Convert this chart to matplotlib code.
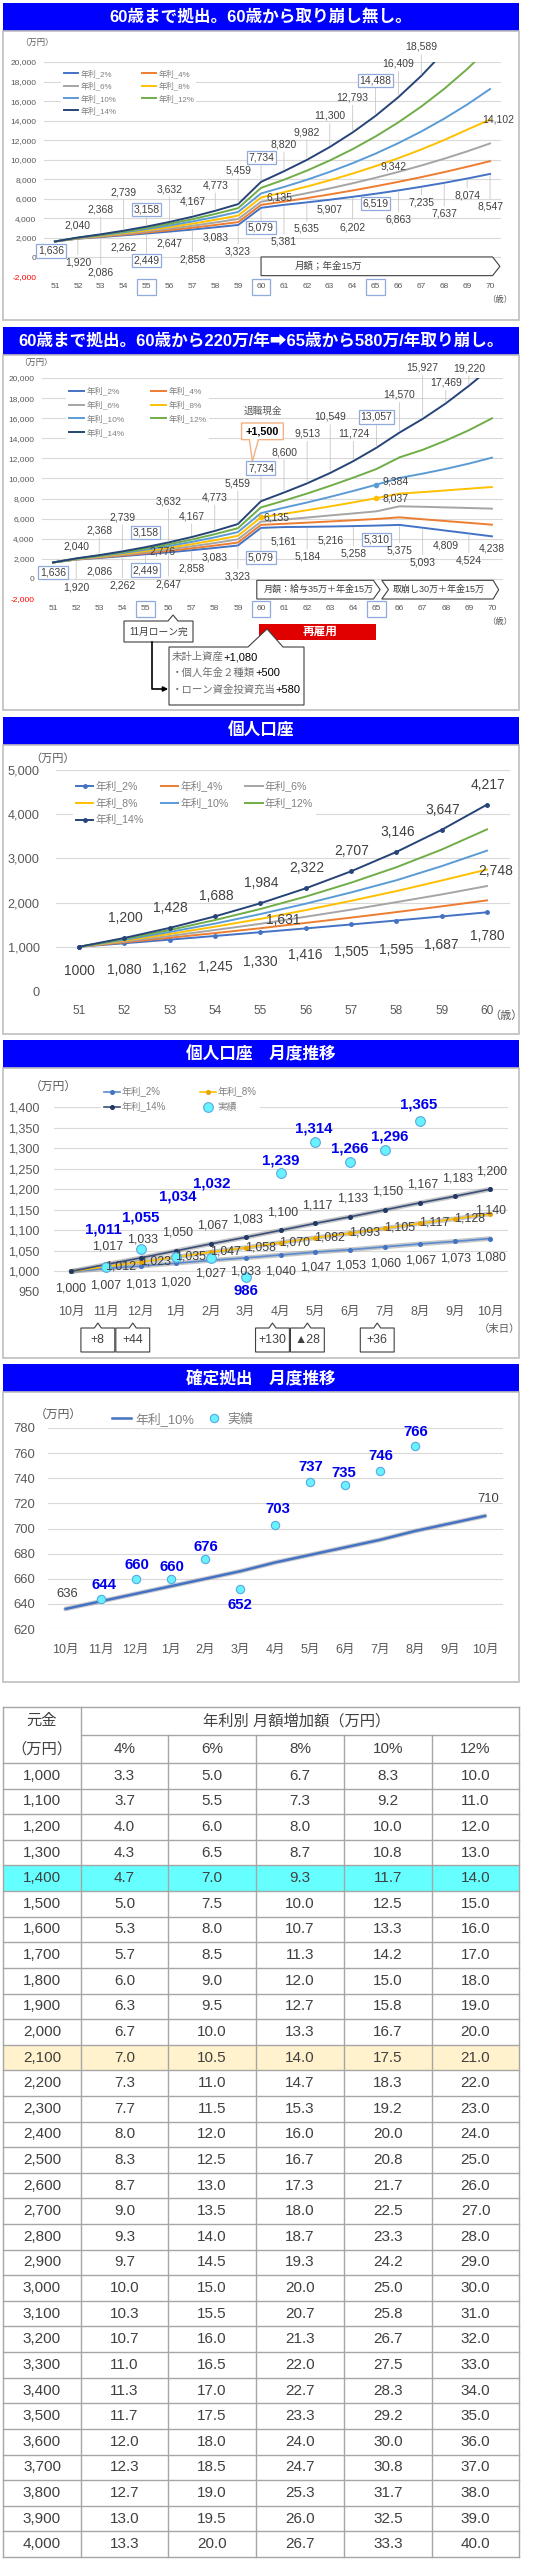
import matplotlib.pyplot as plt
import matplotlib.transforms as mtransforms
from matplotlib.patches import Rectangle, Polygon

plt.rcParams['font.family'] = ['Liberation Sans', 'Noto Sans CJK JP', 'DejaVu Sans']

# ---------------- data ----------------
rate_names = ['年利_2%', '年利_4%', '年利_6%', '年利_8%', '年利_10%', '年利_12%', '年利_14%']
ages = [51, 52, 53, 54, 55, 56, 57, 58, 59, 60, 61, 62, 63, 64, 65, 66, 67, 68, 69, 70]

# chart 1: no withdrawal after 60
c1_2 = [1636, 1920, 2086, 2262, 2449, 2647, 2858, 3083, 3323, 5079, 5381, 5635, 5907, 6202, 6519, 6863, 7235, 7637, 8074, 8547]
c1_4 = [1636, 1940, 2130, 2335, 2555, 2790, 3045, 3320, 3615, 5380, 5716, 6073, 6452, 6855, 7283, 7738, 8221, 8734, 9280, 9854]
c1_6 = [1636, 1960, 2175, 2410, 2665, 2940, 3245, 3575, 3935, 5700, 6123, 6577, 7065, 7590, 8153, 8758, 9408, 10106, 10856, 11665]
c1_8 = [1636, 1980, 2220, 2490, 2776, 3100, 3455, 3850, 4285, 6135, 6673, 7258, 7895, 8587, 9342, 10161, 11052, 12021, 13075, 14102]
c1_10 = [1636, 2000, 2270, 2570, 2900, 3270, 3680, 4140, 4660, 6550, 7215, 7948, 8756, 9645, 10625, 11705, 12894, 14204, 15647, 17233]
c1_12 = [1636, 2020, 2318, 2655, 3025, 3445, 3915, 4450, 5045, 7120, 7953, 8884, 9923, 11084, 12381, 13830, 15448, 17256, 19275, 21530]
c1_14 = [1636, 2040, 2368, 2739, 3158, 3632, 4167, 4773, 5459, 7734, 8820, 9982, 11300, 12793, 14488, 16409, 18589, 21060, 23860, 27030]

# chart 2: withdrawal 220/yr from 60, 580/yr from 65
c2_2 = c1_2[:9] + [5079, 5161, 5184, 5216, 5258, 5310, 5375, 5093, 4809, 4524, 4238]
c2_4 = c1_4[:9] + [5380, 5490, 5600, 5720, 5840, 5965, 6131, 5940, 5760, 5580, 5401]
c2_6 = c1_6[:9] + [5700, 5900, 6110, 6320, 6520, 6728, 7226, 7180, 7120, 7060, 6994]
c2_8 = c1_8[:9] + [6135, 6480, 6840, 7220, 7620, 8037, 8490, 8640, 8810, 8980, 9150]
c2_10 = c1_10[:9] + [6550, 7090, 7610, 8170, 8760, 9384, 10050, 10480, 10950, 11480, 12070]
c2_12 = c1_12[:9] + [7120, 7790, 8500, 9270, 10080, 10942, 12103, 12850, 13770, 14800, 15985]
c2_14 = c1_14[:9] + [7734, 8600, 9513, 10549, 11724, 13057, 14570, 15927, 17469, 19220, 21100]

# chart 3: personal account
ages3 = [51, 52, 53, 54, 55, 56, 57, 58, 59, 60]
p_2 = [1000, 1080, 1162, 1245, 1330, 1416, 1505, 1595, 1687, 1780]
p_4 = [1000, 1100, 1205, 1310, 1420, 1540, 1660, 1785, 1915, 2051]
p_6 = [1000, 1120, 1245, 1380, 1520, 1680, 1840, 2010, 2185, 2375]
p_8 = [1000, 1140, 1290, 1455, 1631, 1830, 2040, 2260, 2500, 2748]
p_10 = [1000, 1160, 1335, 1525, 1740, 1975, 2230, 2505, 2825, 3175]
p_12 = [1000, 1180, 1380, 1605, 1855, 2135, 2450, 2800, 3200, 3657]
p_14 = [1000, 1200, 1428, 1688, 1984, 2322, 2707, 3146, 3647, 4217]

# chart 4: personal account, monthly
months = ['10月', '11月', '12月', '1月', '2月', '3月', '4月', '5月', '6月', '7月', '8月', '9月', '10月']
m_2 = [1000, 1007, 1013, 1020, 1027, 1033, 1040, 1047, 1053, 1060, 1067, 1073, 1080]
m_8 = [1000, 1012, 1023, 1035, 1047, 1058, 1070, 1082, 1093, 1105, 1117, 1128, 1140]
m_14 = [1000, 1017, 1033, 1050, 1067, 1083, 1100, 1117, 1133, 1150, 1167, 1183, 1200]
act_months = ['11月', '12月', '1月', '2月', '3月', '4月', '5月', '6月', '7月', '8月']
act_personal = [1011, 1055, 1034, 1032, 986, 1239, 1314, 1266, 1296, 1365]
flow_months = ['11月', '12月', '4月', '5月', '7月']
flow_text = ['+8', '+44', '+130', '▲28', '+36']

# chart 5: defined contribution, monthly
dc_10 = [636, 642, 648, 654, 660, 666, 673, 679, 685, 691, 698, 704, 710]
act_dc = [644, 660, 660, 676, 652, 703, 737, 735, 746, 766]

# table
principal = [1000, 1100, 1200, 1300, 1400, 1500, 1600, 1700, 1800, 1900, 2000, 2100, 2200, 2300, 2400, 2500,
             2600, 2700, 2800, 2900, 3000, 3100, 3200, 3300, 3400, 3500, 3600, 3700, 3800, 3900, 4000]
rate_cols = ['4%', '6%', '8%', '10%', '12%']
inc_4 = [3.3, 3.7, 4.0, 4.3, 4.7, 5.0, 5.3, 5.7, 6.0, 6.3, 6.7, 7.0, 7.3, 7.7, 8.0, 8.3,
         8.7, 9.0, 9.3, 9.7, 10.0, 10.3, 10.7, 11.0, 11.3, 11.7, 12.0, 12.3, 12.7, 13.0, 13.3]
inc_6 = [5.0, 5.5, 6.0, 6.5, 7.0, 7.5, 8.0, 8.5, 9.0, 9.5, 10.0, 10.5, 11.0, 11.5, 12.0, 12.5,
         13.0, 13.5, 14.0, 14.5, 15.0, 15.5, 16.0, 16.5, 17.0, 17.5, 18.0, 18.5, 19.0, 19.5, 20.0]
inc_8 = [6.7, 7.3, 8.0, 8.7, 9.3, 10.0, 10.7, 11.3, 12.0, 12.7, 13.3, 14.0, 14.7, 15.3, 16.0, 16.7,
         17.3, 18.0, 18.7, 19.3, 20.0, 20.7, 21.3, 22.0, 22.7, 23.3, 24.0, 24.7, 25.3, 26.0, 26.7]
inc_10 = [8.3, 9.2, 10.0, 10.8, 11.7, 12.5, 13.3, 14.2, 15.0, 15.8, 16.7, 17.5, 18.3, 19.2, 20.0, 20.8,
          21.7, 22.5, 23.3, 24.2, 25.0, 25.8, 26.7, 27.5, 28.3, 29.2, 30.0, 30.8, 31.7, 32.5, 33.3]
inc_12 = [10.0, 11.0, 12.0, 13.0, 14.0, 15.0, 16.0, 17.0, 18.0, 19.0, 20.0, 21.0, 22.0, 23.0, 24.0, 25.0,
          26.0, 27.0, 28.0, 29.0, 30.0, 31.0, 32.0, 33.0, 34.0, 35.0, 36.0, 37.0, 38.0, 39.0, 40.0]

# ---------------- styles ----------------
C = ['#4472C4', '#ED7D31', '#A5A5A5', '#FFC000', '#5B9BD5', '#70AD47', '#264478']
TXT = '#404040'
TICK = '#595959'
BOX_EC = '#8FAADC'
BLUE_BAR = '#0000FF'

W, H = 538, 2560
fig = plt.figure(figsize=(W / 100, H / 100), dpi=100, facecolor='white')


def px_axes(x0, y0, x1, y1, z=1):
    ax = fig.add_axes([x0 / W, 1 - y1 / H, (x1 - x0) / W, (y1 - y0) / H], zorder=z)
    ax.patch.set_alpha(0)
    return ax


bg = px_axes(0, 0, W, H, z=0)
bg.set_xlim(0, W)
bg.set_ylim(H, 0)
bg.axis('off')
fg = px_axes(0, 0, W, H, z=5)
fg.set_xlim(0, W)
fg.set_ylim(H, 0)
fg.axis('off')


def section(y0, y1, y2, title):
    bg.add_patch(Rectangle((3, y0), 516, y1 - y0, fc=BLUE_BAR, ec=BLUE_BAR, lw=0))
    bg.add_patch(Rectangle((3, y1), 516, y2 - y1, fill=False, ec='#BFBFBF', lw=1.2))
    bg.text(261, (y0 + y1) / 2, title, color='white', fontsize=12, fontweight='bold',
            ha='center', va='center')


def style(ax, xlim, ylim, yticks, fs_y, fs_x, pad_y, pad_x):
    ax.set_xlim(*xlim)
    ax.set_ylim(*ylim)
    ax.set_yticks(yticks, [f'{v:,}' for v in yticks])
    for sp in ax.spines.values():
        sp.set_visible(False)
    ax.tick_params(axis='both', length=0, labelcolor=TICK)
    ax.tick_params(axis='y', labelsize=fs_y, pad=pad_y)
    ax.tick_params(axis='x', labelsize=fs_x, pad=pad_x)
    ax.grid(axis='y', color='#D9D9D9', lw=0.8)
    ax.set_axisbelow(True)


def put(ax, x, y, s, dx=0, dy=0, fs=7.5, color=TXT, boxed=False, leader=False, **kw):
    props = dict(textcoords='offset pixels', xytext=(dx, dy), ha='center', va='center',
                 fontsize=fs, color=color, zorder=6, annotation_clip=False)
    if boxed:
        props['bbox'] = dict(boxstyle='square,pad=0.15', fc='white', ec=BOX_EC, lw=0.9)
    if leader:
        props['arrowprops'] = dict(arrowstyle='-', color='#C8C8C8', lw=0.6, shrinkA=0, shrinkB=1)
    props.update(kw)
    return ax.annotate(s, (x, y), **props)


def box_ticks(ax, names):
    for t in ax.get_xticklabels():
        if t.get_text() in names:
            t.set_bbox(dict(boxstyle='square,pad=0.55', fc='none', ec=BOX_EC, lw=0.9))


def banner(ax, pts, text, tx, ty, fs):
    ax.add_patch(Polygon(pts, closed=True, fc='white', ec='#404040', lw=0.8, zorder=5, clip_on=False))
    ax.text(tx, ty, text, fontsize=fs, color=TXT, ha='center', va='center', zorder=6)


# ================= section 1 =================
section(3, 31, 320, '60歳まで拠出。60歳から取り崩し無し。')
ax1 = px_axes(43.5, 62, 501.5, 277)
style(ax1, (50.5, 70.5), (-2000, 20000), list(range(-2000, 20001, 2000)), 6, 6, 5, 4.5)
ax1.get_yticklabels()[0].set_color('red')
ax1.set_xticks(ages, [str(a) for a in ages])
box_ticks(ax1, ('55', '60', '65'))
series1 = [c1_2, c1_4, c1_6, c1_8, c1_10, c1_12, c1_14]
lines1 = [ax1.plot(ages, s, color=C[i], lw=1.4, label=rate_names[i], zorder=3)[0]
          for i, s in enumerate(series1)]
order2 = [0, 2, 4, 6, 1, 3, 5]
ax1.legend([lines1[i] for i in order2], [rate_names[i] for i in order2], ncol=2, loc='upper left',
           bbox_to_anchor=(0.03, 0.995), fontsize=5.7, frameon=True, facecolor='white',
           edgecolor='none', framealpha=1, labelcolor='#808080', handlelength=1.8,
           handletextpad=0.3, columnspacing=3.2, labelspacing=0.45, borderpad=0.3)

up1 = [11.6, 25.1, 38.5, 17.4, 32.8, 15.2, 25.6, 33.6, 24.4, 27.1, 27.5, 31.3, 35.0, 35.5, 33.4, 28.8]
lo1 = [-9.5, -23.6, -35.3, -11.9, -27.1, -12.4, -29.8, -9.9, -27.0, -19.8, -36.7, -26.5, -9.8,
       -30.4, -9.8, -28.9, -16.1, -31.1, -17.3, -33.0]
for i, dy in enumerate(up1, start=1):
    put(ax1, ages[i], c1_14[i], f'{c1_14[i]:,}', dy=dy, boxed=ages[i] in (55, 60, 65), leader=dy > 15)
for i, dy in enumerate(lo1):
    put(ax1, ages[i], c1_2[i], f'{c1_2[i]:,}', dy=dy, dx=-4 if i == 0 else 0,
        boxed=ages[i] in (51, 55, 60, 65), leader=dy < -15)
put(ax1, 60, c1_8[9], f'{c1_8[9]:,}', dx=18, dy=0)
put(ax1, 65, c1_8[14], f'{c1_8[14]:,}', dx=18, dy=0)
put(ax1, 70, c1_8[19], f'{c1_8[19]:,}', dx=8, dy=0)
banner(ax1, [(60.0, 50), (70.11, 50), (70.43, -906), (70.11, -1862), (60.0, -1862)],
       '月額；年金15万', 62.94, -906, 6.8)
bg.text(37, 43, '（万円）', fontsize=6, color=TICK, ha='center', va='center')
bg.text(500, 300, '（歳）', fontsize=6, color=TICK, ha='center', va='center')

# ================= section 2 =================
section(327, 355, 710, '60歳まで拠出。60歳から220万/年➡65歳から580万/年取り崩し。')
ax2 = px_axes(41.5, 378, 503.5, 599)
style(ax2, (50.5, 70.5), (-2000, 20000), list(range(-2000, 20001, 2000)), 6, 6, 5, 4.5)
ax2.get_yticklabels()[0].set_color('red')
ax2.set_xticks(ages, [str(a) for a in ages])
box_ticks(ax2, ('55', '60', '65'))
series2 = [c2_2, c2_4, c2_6, c2_8, c2_10, c2_12, c2_14]
lines2 = [ax2.plot(ages, s, color=C[i], lw=1.4, label=rate_names[i], zorder=3)[0]
          for i, s in enumerate(series2)]
ax2.legend([lines2[i] for i in order2], [rate_names[i] for i in order2], ncol=2, loc='upper left',
           bbox_to_anchor=(0.045, 0.99), fontsize=6, frameon=True, facecolor='white',
           edgecolor='none', framealpha=1, labelcolor='#808080', handlelength=1.8,
           handletextpad=0.3, columnspacing=3.2, labelspacing=0.6, borderpad=0.3)
ax2.plot([60, 65], [c2_8[9], c2_8[14]], 'o', color=C[3], ms=3, zorder=4)
ax2.plot([65], [c2_10[14]], 'o', color=C[4], ms=3, zorder=4)

up2 = [12.1, 25.1, 34.0, 14.9, 41.0, 20.7, 33.7, 40.8, 33.2, 40.5, 49.7, 56.0, 27.5, 30.8, 37.9,
       51.0, 21.0, 17.8]
lo2 = [-9.8, -27.4, -13.4, -29.1, -15.7, -31.7, -18.8, -10.0, -31.1, -30.0, -14.1, -30.0, -14.0,
       -27.6, -14.1, -25.4, -34.6, -14.7, -26.9, -11.7]
for i, dy in enumerate(up2, start=1):
    put(ax2, ages[i], c2_14[i], f'{c2_14[i]:,}', dy=dy, boxed=ages[i] in (55, 60, 65), leader=dy > 15)
for i, dy in enumerate(lo2):
    put(ax2, ages[i], c2_2[i], f'{c2_2[i]:,}', dy=dy, boxed=ages[i] in (51, 55, 60, 65), leader=dy < -15)
put(ax2, 55, c2_8[4], f'{c2_8[4]:,}', dx=17, dy=0)
put(ax2, 60, c2_8[9], f'{c2_8[9]:,}', dx=16, dy=0)
put(ax2, 65, c2_10[14], f'{c2_10[14]:,}', dx=19, dy=3)
put(ax2, 65, c2_8[14], f'{c2_8[14]:,}', dx=19, dy=0)

# retirement cash callout
ax2.add_patch(Polygon([(59.16, 15521), (60.97, 15521), (60.97, 13862), (59.89, 13862),
                       (59.63, 11705), (59.50, 13862), (59.16, 13862)], closed=True,
                      fc='white', ec='#F4B183', lw=1.0, zorder=5, clip_on=False))
ax2.text(60.06, 14691, '+1,500', fontsize=7.8, fontweight='bold', color='black',
         ha='center', va='center', zorder=6)
ax2.text(60.1, 16682, '退職現金', fontsize=6.9, color=TICK, ha='center', va='center')
banner(ax2, [(59.82, -140), (64.87, -140), (65.16, -1070), (64.87, -2000), (59.82, -2000)],
       '月額：給与35万＋年金15万', 62.49, -1070, 6.5)
banner(ax2, [(65.23, -140), (70.05, -140), (70.29, -1070), (70.05, -2000), (65.23, -2000),
             (65.52, -1070)], '取崩し30万＋年金15万', 67.69, -1070, 6.5)
bg.text(36, 363, '（万円）', fontsize=6, color=TICK, ha='center', va='center')
bg.text(500, 622, '（歳）', fontsize=6, color=TICK, ha='center', va='center')

# notes below chart 2
fg.add_patch(Polygon([(124, 621), (168, 621), (173, 615), (178, 621), (193, 621), (193, 642), (124, 642)],
                     closed=True, fc='white', ec='#404040', lw=0.8))
fg.text(158.5, 631.5, '11月ローン完', fontsize=7, color=TXT, ha='center', va='center')
fg.plot([152, 152, 163], [642, 689, 689], color='black', lw=1.2)
fg.annotate('', xy=(171, 689), xytext=(160, 689),
            arrowprops=dict(arrowstyle='-|>', color='black', lw=1.2, mutation_scale=7))
fg.add_patch(Rectangle((259, 624), 117, 16, fc='#E00000', ec='none'))
fg.text(320, 632, '再雇用', fontsize=8.4, fontweight='bold', color='white', ha='center', va='center')
fg.add_patch(Polygon([(169, 647), (248, 647), (267, 629), (283, 647), (304, 647), (304, 705), (169, 705)],
                     closed=True, fc='white', ec='#404040', lw=0.8, zorder=3))
for ty, jp, num in [(657, '未計上資産', '+1,080'), (673, '・個人年金２種類', '+500'),
                    (690, '・ローン資金投資充当', '+580')]:
    t = fg.text(172, ty, jp, fontsize=7.5, color='#707070', ha='left', va='center', zorder=4)
    fg.annotate(num, xy=(1, 0.5), xycoords=t, fontsize=8, color='black', ha='left', va='center',
                zorder=4)

# ================= section 3 =================
section(717, 745, 1034, '個人口座')
ax3 = px_axes(56.3, 770, 509.7, 991)
style(ax3, (50.5, 60.5), (0, 5000), list(range(0, 5001, 1000)), 9.2, 8.6, 12, 10)
ax3.set_xticks(ages3, [str(a) for a in ages3])
series3 = [p_2, p_4, p_6, p_8, p_10, p_12, p_14]
lines3 = []
for i, s in enumerate(series3):
    mk = 'o' if i in (0, 6) else None
    lines3.append(ax3.plot(ages3, s, color=C[i], lw=1.4, marker=mk, ms=2.5, label=rate_names[i], zorder=3)[0])
order3 = [0, 3, 6, 1, 4, 2, 5]
ax3.legend([lines3[i] for i in order3], [rate_names[i] for i in order3], ncol=3, loc='upper left',
           bbox_to_anchor=(0.025, 0.99), fontsize=7.7, frameon=True, facecolor='white',
           edgecolor='none', framealpha=1, labelcolor='#808080', handlelength=1.6,
           handletextpad=0.2, columnspacing=1.6, labelspacing=0.55, borderpad=0.3)
for i in range(1, 10):
    put(ax3, ages3[i], p_14[i], f'{p_14[i]:,}', dy=20, dx=1, fs=10)
lo3 = [-23.9, -26.7, -29.4, -30.7, -30.1, -26.6, -27.2, -29.5, -28.6, -23.3]
for i, dy in enumerate(lo3):
    txt = str(p_2[i]) if i == 0 else f'{p_2[i]:,}'
    put(ax3, ages3[i], p_2[i], txt, dy=dy, fs=10)
put(ax3, 55, p_8[4], f'{p_8[4]:,}', dx=23, dy=-1, fs=10)
put(ax3, 60, p_8[9], f'{p_8[9]:,}', dx=9, dy=-1, fs=10)
bg.text(53, 759, '（万円）', fontsize=8, color=TICK, ha='center', va='center')
bg.text(506, 1016, '（歳）', fontsize=8, color=TICK, ha='center', va='center')

# ================= section 4 =================
section(1040, 1068, 1358, '個人口座　月度推移')
ax4 = px_axes(53.5, 1107, 507.5, 1292)
style(ax4, (-0.5, 12.5), (950, 1400), list(range(950, 1401, 50)), 9.1, 9, 10, 10)
xm = list(range(len(months)))
ax4.set_xticks(xm, months)
h4 = []
for s, lc, mc, nm in [(m_2, '#5B8BD0', '#4472C4', rate_names[0]), (m_8, '#FFC000', '#E8A200', rate_names[3]),
                      (m_14, '#3A4F7A', '#203864', rate_names[6])]:
    ax4.plot(xm, s, color='#9A9A9A', lw=3.4, alpha=0.55, solid_capstyle='round', zorder=2)
    h4.append(ax4.plot(xm, s, color=lc, lw=1.2, marker='o', ms=2.6, mfc=mc, mec=mc, label=nm, zorder=3)[0])
ax_idx = [months.index(m, 1) for m in act_months]
h4.append(ax4.plot(ax_idx, act_personal, 'o', ms=7, mfc='#66F2FF', mec='#5BA8E0', mew=0.8,
                   label='実績', zorder=4)[0])
leg_order4 = [0, 2, 1, 3]
ax4.legend([h4[i] for i in leg_order4], [h4[i].get_label() for i in leg_order4], ncol=2,
           loc='upper left', bbox_to_anchor=(0.095, 1.15), fontsize=7, frameon=True,
           facecolor='white', edgecolor='none', framealpha=1, labelcolor='#808080',
           handlelength=1.6, handletextpad=0.2, columnspacing=3.5, labelspacing=0.5, borderpad=0.3)
for i, v in enumerate(m_14):
    if i > 0:
        put(ax4, i, v, f'{v:,}', dy=18, dx=2, fs=8.9)
lo4 = [-16.6, -17.4, -18.6, -19.4, -12.7, -14.1, -16.3, -14.9, -15.7, -16.9, -16.4, -16.6, -19.1]
for i, v in enumerate(m_2):
    put(ax4, i, v, f'{v:,}', dy=lo4[i], fs=8.9)
for i, v in enumerate(m_8):
    if i > 0:
        dx, dy = (14.5, 0.5) if i < 12 else (1, 3)
        put(ax4, i, v, f'{v:,}', dx=dx, dy=dy, fs=8.9)
act_off4 = [(-3, 37.7), (0, 31), (2, 60.7), (1, 75), (0, -14), (0, 12.7), (-2, 14), (-1, 13.3), (4, 13.7),
            (-2, 17.3)]
for i, v in enumerate(act_personal):
    dx, dy = act_off4[i]
    put(ax4, ax_idx[i], v, f'{v:,}', dx=dx, dy=dy, fs=10.8, color='#0000EE', fontweight='bold')
tr4 = mtransforms.blended_transform_factory(ax4.transData, fg.transData)
for m, s in zip(flow_months, flow_text):
    xc = months.index(m, 1) - 0.23
    fg.add_patch(Polygon([(xc - 0.485, 1328), (xc - 0.1, 1328), (xc, 1323), (xc + 0.1, 1328),
                          (xc + 0.485, 1328), (xc + 0.485, 1352), (xc - 0.485, 1352)], closed=True,
                         fc='white', ec='#404040', lw=0.8, transform=tr4, clip_on=False))
    fg.text(xc, 1340, s, fontsize=8.9, color=TXT, ha='center', va='center', transform=tr4)
bg.text(53, 1087, '（万円）', fontsize=8.5, color=TICK, ha='center', va='center')
bg.text(500, 1329, '（末日）', fontsize=7.5, color=TICK, ha='center', va='center')

# ================= section 5 =================
section(1364, 1392, 1682, '確定拠出　月度推移')
ax5 = px_axes(48.2, 1428, 502.5, 1629)
style(ax5, (-0.5, 12.5), (620, 780), list(range(620, 781, 20)), 9.4, 9, 9.5, 11)
ax5.set_xticks(xm, months)
ax5.plot(xm, dc_10, color='#9A9A9A', lw=3.4, alpha=0.5, solid_capstyle='round', zorder=2)
l5, = ax5.plot(xm, dc_10, color='#4472C4', lw=1.8, label='年利_10%', zorder=3)
d5, = ax5.plot(ax_idx, act_dc, 'o', ms=6, mfc='#66F2FF', mec='#5BA8E0', mew=0.8, label='実績', zorder=4)
ax5.legend([l5, d5], ['年利_10%', '実績'], ncol=2, loc='upper left', bbox_to_anchor=(0.12, 1.125),
           fontsize=9.3, frameon=False, labelcolor='#808080', handlelength=1.5, handletextpad=0.3,
           columnspacing=0.8, borderpad=0.2)
put(ax5, 0, dc_10[0], f'{dc_10[0]}', dx=2, dy=15, fs=9.4)
put(ax5, 12, dc_10[12], f'{dc_10[12]}', dx=3, dy=17, fs=9.4)
act_off5 = [(3, 14), (1, 14), (1, 12), (0, 11.7), (0, -16), (2, 15.3), (0, 14.7), (-1, 11.3), (1, 14.7),
            (1, 13.7)]
for i, v in enumerate(act_dc):
    dx, dy = act_off5[i]
    put(ax5, ax_idx[i], v, f'{v}', dx=dx, dy=dy, fs=10.8, color='#0000EE', fontweight='bold')
bg.text(58, 1415, '（万円）', fontsize=8.5, color=TICK, ha='center', va='center')

# ================= table =================
cols = [3, 81, 168, 256, 344, 432, 519]
t_top, t_h1, t_h2, t_bot = 1707, 1735, 1763, 2557
rh = (t_bot - t_h2) / len(principal)
highlight = {1400: '#66FFFF', 2100: '#FFF2CC'}
LC = '#A6A6A6'
table_cols = [inc_4, inc_6, inc_8, inc_10, inc_12]
for r, p in enumerate(principal):
    y0 = t_h2 + r * rh
    if p in highlight:
        bg.add_patch(Rectangle((3, y0), 516, rh, fc=highlight[p], ec='none'))
    bg.text((cols[0] + cols[1]) / 2, y0 + rh / 2, f'{p:,}', fontsize=11, color=TXT, ha='center', va='center')
    for c, vals in enumerate(table_cols):
        bg.text((cols[c + 1] + cols[c + 2]) / 2, y0 + rh / 2, f'{vals[r]:.1f}', fontsize=11, color=TXT,
                ha='center', va='center')
    bg.plot([3, 519], [y0 + rh, y0 + rh], color=LC, lw=1)
bg.plot([3, 519], [t_top, t_top], color=LC, lw=1)
bg.plot([81, 519], [t_h1, t_h1], color=LC, lw=1)
bg.plot([3, 519], [t_h2, t_h2], color=LC, lw=1)
for i, x in enumerate(cols):
    bg.plot([x, x], [t_top if i in (0, 1, 6) else t_h1, t_bot], color=LC, lw=1)
bg.text(42, (t_top + t_h1) / 2, '元金', fontsize=11, color=TXT, ha='center', va='center')
bg.text(42, (t_h1 + t_h2) / 2, '（万円）', fontsize=11, color=TXT, ha='center', va='center')
bg.text(297, (t_top + t_h1) / 2, '年利別 月額増加額（万円）', fontsize=11, color=TXT, ha='center', va='center')
for c, name in enumerate(rate_cols):
    bg.text((cols[c + 1] + cols[c + 2]) / 2, (t_h1 + t_h2) / 2, name, fontsize=11, color=TXT,
            ha='center', va='center')

fig.savefig('out.png', dpi=100, facecolor='white')
